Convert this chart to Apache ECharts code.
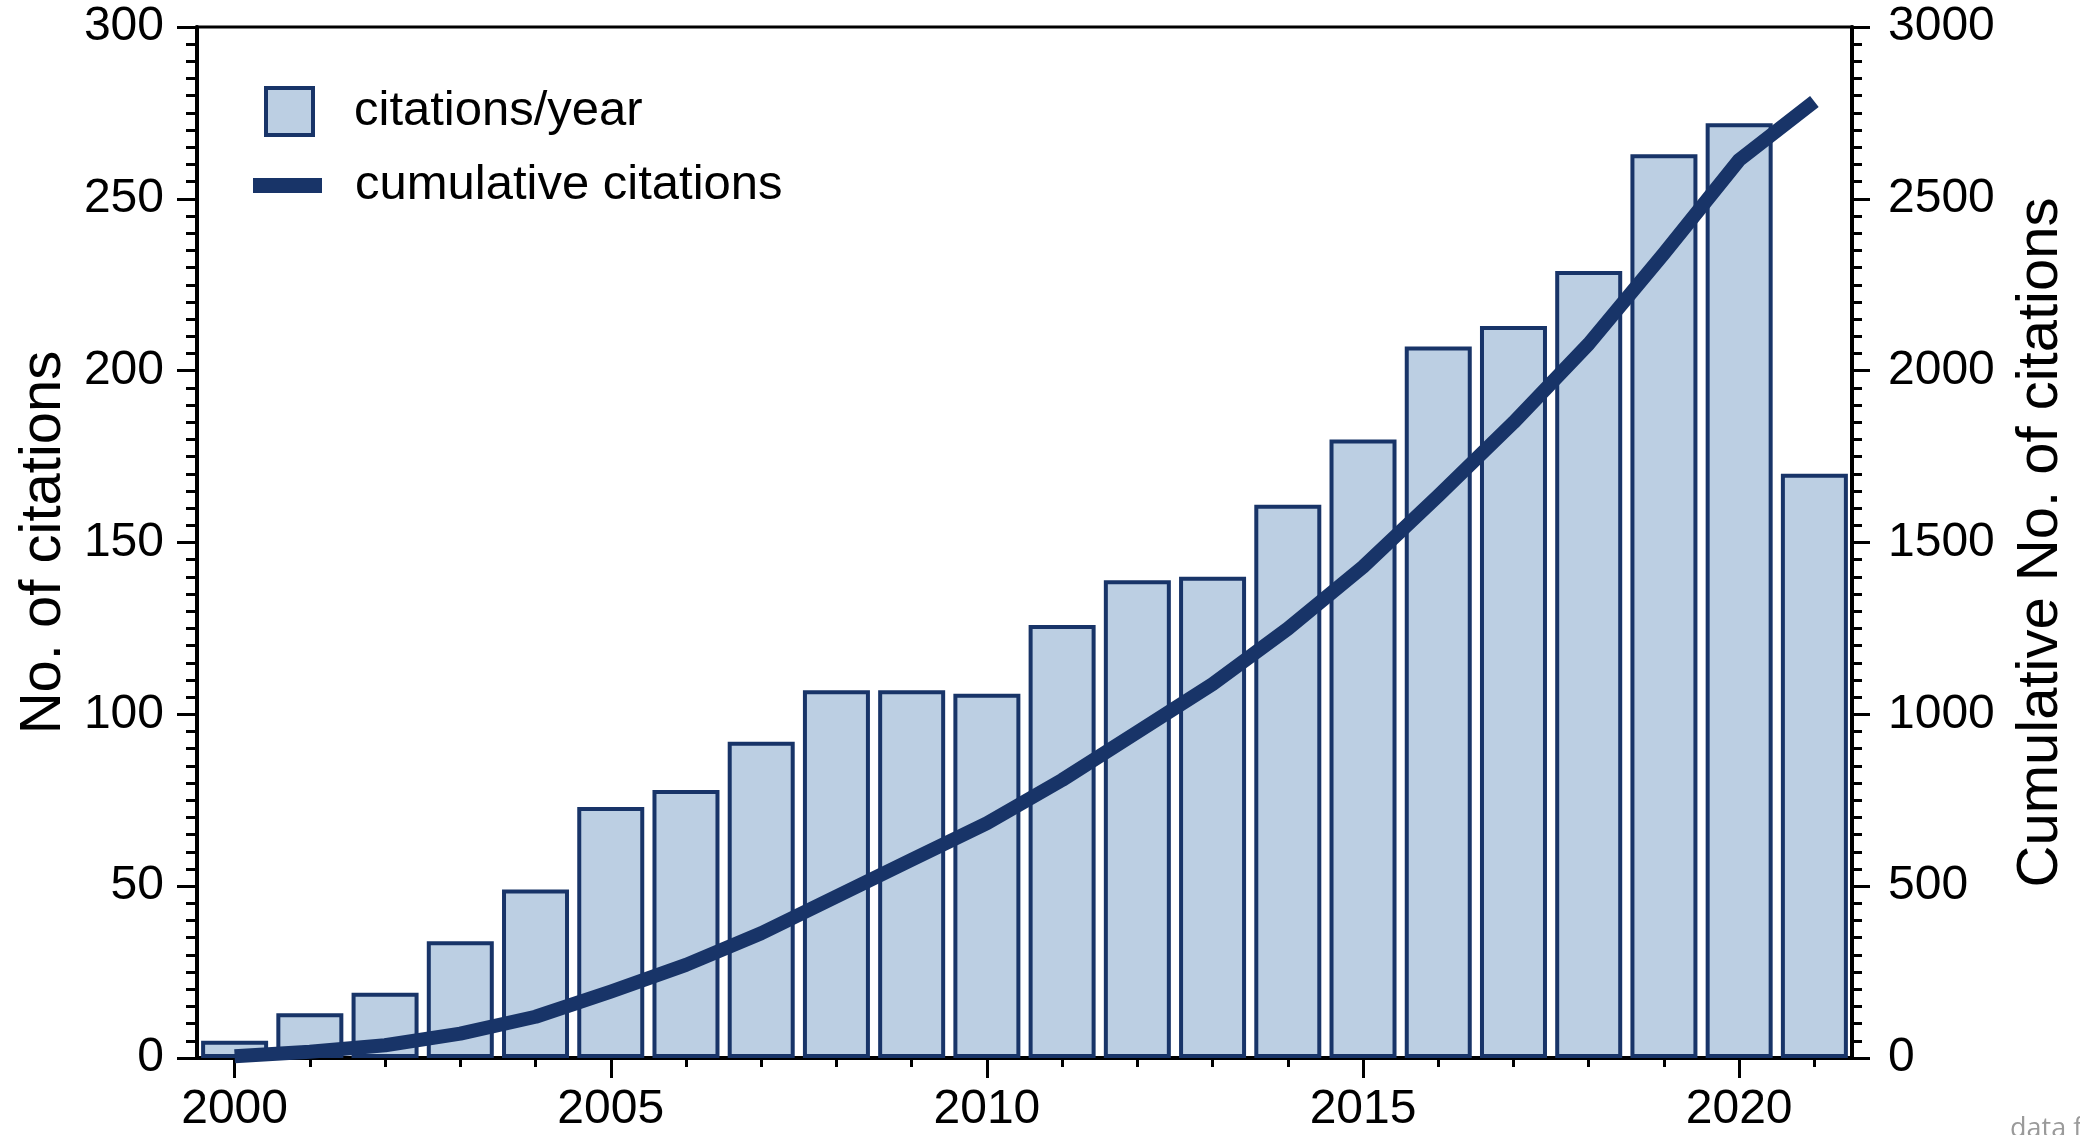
<!DOCTYPE html>
<html>
<head>
<meta charset="utf-8">
<title>citations</title>
<script src="https://cdn.jsdelivr.net/npm/echarts@6/dist/echarts.min.js"></script>
<style>
  html, body { margin: 0; padding: 0; background: #fff; }
  #chart { width: 2080px; height: 1135px; }
</style>
</head>
<body>
<div id="chart"></div>
<script>
// years on the x axis
var years = ["2000", "2001", "2002", "2003", "2004", "2005", "2006", "2007", "2008", "2009", "2010",
  "2011", "2012", "2013", "2014", "2015", "2016", "2017", "2018", "2019", "2020", "2021"];
// citations per year (left axis)
var perYear = [5, 13, 19, 34, 49, 73, 78, 92, 107, 107, 106, 126, 139, 140, 161, 180, 207, 213, 229, 263, 272, 170];
// cumulative citations (right axis)
var cumulative = [5, 18, 37, 71, 120, 193, 271, 363, 470, 577, 683, 809, 948, 1088, 1249, 1429, 1636, 1849, 2078, 2341, 2613, 2783];

var navy = "#183468";
var fill = "#bccfe3";
var font = "Liberation Sans";

var chart = echarts.init(document.getElementById("chart"));
chart.setOption({
  animation: false,
  backgroundColor: "#fff",
  textStyle: { fontFamily: font },
  grid: {
    left: 197,
    right: 228,
    top: 27,
    bottom: 77,
    show: true,
    borderColor: "#000",
    borderWidth: 3,
    backgroundColor: "transparent",
  },
  legend: [
    {
      data: [{ name: "citations/year", icon: "rect" }],
      left: 259,
      top: 81,
      itemWidth: 47,
      itemHeight: 47,
      itemStyle: { color: fill, borderColor: navy, borderWidth: 4 },
      textStyle: { fontSize: 49, color: "#000", fontFamily: font, padding: [4, 0, 0, 36] },
      selectedMode: false,
    },
    {
      data: [{ name: "cumulative citations", icon: "rect" }],
      left: 248,
      top: 156,
      itemWidth: 69,
      itemHeight: 15,
      itemStyle: { color: navy, borderWidth: 0 },
      textStyle: { fontSize: 49, color: "#000", fontFamily: font, padding: [0, 0, 0, 28] },
      selectedMode: false,
    },
  ],
  xAxis: [
    {
      type: "category",
      data: years,
      position: "bottom",
      boundaryGap: true,
      axisLine: { show: true, lineStyle: { color: "#000", width: 4 } },
      axisTick: { show: true, alignWithLabel: true, interval: 4, length: 20, lineStyle: { color: "#000", width: 3 } },
      axisLabel: { interval: 4, fontSize: 48, color: "#000", margin: 28 },
      splitLine: { show: false },
    },
    {
      // minor year ticks
      type: "category",
      data: years,
      position: "bottom",
      boundaryGap: true,
      axisLine: { show: false },
      axisTick: { show: true, alignWithLabel: true, interval: 0, length: 9, lineStyle: { color: "#000", width: 3 } },
      axisLabel: { show: false },
      splitLine: { show: false },
    },
  ],
  yAxis: [
    {
      type: "value",
      position: "left",
      min: 0,
      max: 300,
      interval: 50,
      name: "No. of citations",
      nameLocation: "middle",
      nameRotate: 90,
      nameGap: 124,
      nameTextStyle: { fontSize: 58, color: "#000", fontFamily: font },
      axisLine: { show: true, lineStyle: { color: "#000", width: 4 } },
      axisTick: { show: true, length: 20, lineStyle: { color: "#000", width: 3 } },
      minorTick: { show: true, splitNumber: 10, length: 11, lineStyle: { color: "#000", width: 3 } },
      axisLabel: { fontSize: 48, color: "#000", margin: 33 },
      splitLine: { show: false },
      minorSplitLine: { show: false },
    },
    {
      type: "value",
      position: "right",
      min: 0,
      max: 3000,
      interval: 500,
      name: "Cumulative No. of citations",
      nameLocation: "middle",
      nameRotate: 90,
      nameGap: 160,
      nameTextStyle: { fontSize: 58, color: "#000", fontFamily: font },
      axisLine: { show: true, lineStyle: { color: "#000", width: 4 } },
      axisTick: { show: true, length: 18, lineStyle: { color: "#000", width: 3 } },
      minorTick: { show: true, splitNumber: 10, length: 10, lineStyle: { color: "#000", width: 3 } },
      axisLabel: {
        fontSize: 48,
        color: "#000",
        margin: 36,
        formatter: function (v) {
          return String(v);
        },
      },
      splitLine: { show: false },
      minorSplitLine: { show: false },
    },
  ],
  series: [
    {
      name: "citations/year",
      type: "bar",
      xAxisIndex: 0,
      yAxisIndex: 0,
      data: perYear,
      barWidth: 67,
      itemStyle: { color: fill, borderColor: navy, borderWidth: 4 },
      z: 2,
    },
    {
      name: "cumulative citations",
      type: "line",
      xAxisIndex: 0,
      yAxisIndex: 1,
      data: cumulative,
      symbol: "none",
      itemStyle: { color: navy },
      lineStyle: { color: navy, width: 14, cap: "butt", join: "round" },
      z: 3,
    },
  ],
  graphic: [
    {
      type: "text",
      left: 2010,
      top: 1116,
      style: { text: "data from", fontSize: 27, fontFamily: "Open Sans", fill: "#9a9a9a" },
    },
  ],
});
</script>
</body>
</html>
